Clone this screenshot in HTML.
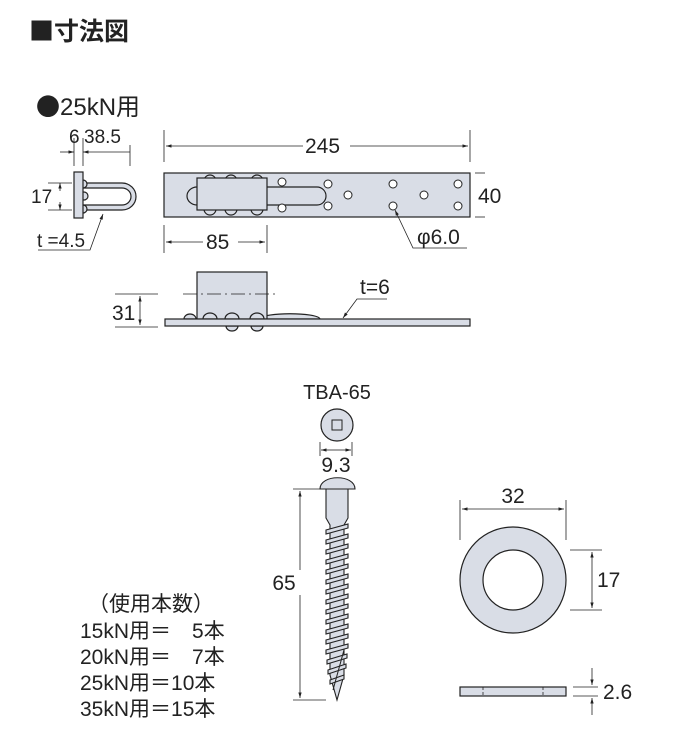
<!DOCTYPE html>
<html><head><meta charset="utf-8"><style>
html,body{margin:0;padding:0;background:#fff}
svg{display:block}
text{font-family:"Liberation Sans","Noto Sans CJK JP",sans-serif;fill:#222}
</style></head><body>
<svg width="700" height="740" viewBox="0 0 700 740" xmlns="http://www.w3.org/2000/svg">
<defs>
<marker id="a" viewBox="0 0 10 10" refX="10" refY="5" markerWidth="7" markerHeight="7" orient="auto-start-reverse"><path d="M0,2 L10,5 L0,8 z" fill="#222"/></marker>
</defs>
<text x="29" y="40" font-size="25" font-weight="bold" style="font-family:'Noto Sans CJK JP',sans-serif">■寸法図</text>
<text x="36" y="115" font-size="24"><tspan style="font-family:'Noto Sans CJK JP',sans-serif">●</tspan>25kN用</text>

<!-- side bracket -->
<g stroke="#222" stroke-width="1.2" fill="#d9dde6">
<path d="M83,183 H122 A14,13.5 0 0 1 122,210 H83 V205 H122 A9,8.5 0 0 0 122,188 H83 Z"/>
<circle cx="83" cy="184" r="4"/><circle cx="83" cy="209" r="4"/><circle cx="84" cy="196" r="4"/>
<rect x="74" y="172" width="9" height="46"/>
</g>
<g stroke="#222" stroke-width="0.8" fill="none">
<line x1="74" y1="138" x2="74" y2="166"/><line x1="83" y1="138" x2="83" y2="166"/><line x1="130" y1="145" x2="130" y2="166"/>
<line x1="60" y1="152" x2="74" y2="152" marker-end="url(#a)"/>
<line x1="130" y1="152" x2="83" y2="152" marker-end="url(#a)"/>
<line x1="48" y1="183" x2="72" y2="183"/><line x1="48" y1="210" x2="72" y2="210"/>
<line x1="60" y1="191" x2="60" y2="183" marker-end="url(#a)"/>
<line x1="60" y1="202" x2="60" y2="210" marker-end="url(#a)"/>
<path d="M38,250 H90 L103,214" marker-end="url(#a)"/>
</g>
<text x="69" y="143" font-size="19">6</text>
<text x="84" y="143" font-size="19">38.5</text>
<text x="31" y="203" font-size="19">17</text>
<text x="37" y="247" font-size="19">t =4.5</text>

<!-- top view plate -->
<g stroke="#222" stroke-width="1.2" fill="#d9dde6">
<rect x="164" y="173" width="306" height="44"/>
<path d="M197,187 H317 A9,9 0 0 1 317,205 H197 A10,9 0 0 1 197,187 Z"/>
<circle cx="210" cy="181" r="6"/><circle cx="231" cy="181" r="6"/><circle cx="257" cy="181" r="6"/>
<circle cx="210" cy="209" r="6"/><circle cx="231" cy="209" r="6"/><circle cx="257" cy="209" r="6"/>
<rect x="197" y="178" width="70" height="32"/>
</g>
<g stroke="#222" stroke-width="1" fill="#fff">
<circle cx="282" cy="182" r="4"/><circle cx="282" cy="208" r="4"/>
<circle cx="328" cy="184" r="4"/><circle cx="328" cy="206" r="4"/><circle cx="348" cy="195" r="4"/>
<circle cx="393" cy="184" r="4"/><circle cx="393" cy="206" r="4"/><circle cx="424" cy="195" r="4"/>
<circle cx="458" cy="184" r="4"/><circle cx="458" cy="206" r="4"/>
</g>
<g stroke="#222" stroke-width="0.8" fill="none">
<line x1="164" y1="130" x2="164" y2="162"/><line x1="470" y1="130" x2="470" y2="162"/>
<line x1="303" y1="146" x2="166" y2="146" marker-end="url(#a)"/>
<line x1="350" y1="146" x2="468" y2="146" marker-end="url(#a)"/>
<line x1="475" y1="173" x2="485" y2="173"/><line x1="475" y1="217" x2="485" y2="217"/>
<line x1="164" y1="225" x2="164" y2="253"/><line x1="267" y1="225" x2="267" y2="253"/>
<line x1="203" y1="242" x2="166" y2="242" marker-end="url(#a)"/>
<line x1="238" y1="242" x2="265" y2="242" marker-end="url(#a)"/>
<path d="M467,248 H413 L395,210" marker-end="url(#a)"/>
</g>
<text x="305" y="153" font-size="21">245</text>
<text x="478" y="203" font-size="21">40</text>
<text x="206" y="249" font-size="21">85</text>
<text x="417" y="244" font-size="21">φ6.0</text>

<!-- side view -->
<g stroke="#222" stroke-width="1.2" fill="#d9dde6">
<path d="M260,319 C262,312 318,312 320,319 Z"/>
<rect x="197" y="272" width="70" height="47"/>
<path d="M184,319 A6,5 0 0 1 196,319 Z"/>
<path d="M203,319 A7,6 0 0 1 217,319 Z"/>
<path d="M225,319 A7,6 0 0 1 239,319 Z"/>
<path d="M250,319 A7,6 0 0 1 264,319 Z"/>
<path d="M226,326 A6,5 0 0 0 238,326 Z"/>
<path d="M251,326 A6,5 0 0 0 263,326 Z"/>
<rect x="165" y="319" width="305" height="7"/>
</g>
<g stroke="#222" stroke-width="0.8" fill="none">
<line x1="183" y1="294" x2="278" y2="294" stroke-dasharray="14,4,2,4"/>
<line x1="115" y1="294" x2="158" y2="294"/><line x1="115" y1="327" x2="158" y2="327"/>
<line x1="140" y1="312" x2="140" y2="296" marker-end="url(#a)"/>
<line x1="140" y1="312" x2="140" y2="325" marker-end="url(#a)"/>
<path d="M387,299 H357 L343,318" marker-end="url(#a)"/>
</g>
<text x="112" y="320" font-size="21">31</text>
<text x="360" y="294" font-size="21">t=6</text>

<!-- screw -->
<text x="337" y="399" font-size="20" text-anchor="middle">TBA-65</text>
<circle cx="337" cy="425" r="16" fill="#d9dde6" stroke="#222" stroke-width="1.2"/>
<rect x="332" y="420" width="10" height="10" fill="none" stroke="#222" stroke-width="1"/>
<g stroke="#222" stroke-width="0.8" fill="none">
<line x1="320" y1="442" x2="320" y2="456"/><line x1="352" y1="442" x2="352" y2="456"/>
<line x1="336" y1="450" x2="321" y2="450" marker-end="url(#a)"/>
<line x1="336" y1="450" x2="351" y2="450" marker-end="url(#a)"/>
<line x1="293" y1="489" x2="326" y2="489"/><line x1="293" y1="700" x2="326" y2="700"/>
<line x1="300" y1="570" x2="300" y2="491" marker-end="url(#a)"/>
<line x1="300" y1="595" x2="300" y2="698" marker-end="url(#a)"/>
</g>
<text x="336" y="472" font-size="21" text-anchor="middle">9.3</text>
<text x="284" y="590" font-size="21" text-anchor="middle">65</text>
<g stroke="#222" stroke-width="1.1" fill="#d9dde6">
<path d="M320,489 C320,474 355,474 355,489 Z"/>
<path d="M326,489 H348 V518 L344,525 V675 L337,700 L330,675 V525 L326,518 Z"/>
</g>
<g stroke="#222" stroke-width="1.1" fill="#d9dde6">
<path d="M326,530 L348,524 L348,528 L326,534 Z"/>
<path d="M326,540 L348,534 L348,538 L326,544 Z"/>
<path d="M326,550 L348,544 L348,548 L326,554 Z"/>
<path d="M326,560 L348,554 L348,558 L326,564 Z"/>
<path d="M326,570 L348,564 L348,568 L326,574 Z"/>
<path d="M326,580 L348,574 L348,578 L326,584 Z"/>
<path d="M326,590 L348,584 L348,588 L326,594 Z"/>
<path d="M326,600 L348,594 L348,598 L326,604 Z"/>
<path d="M326,610 L348,604 L348,608 L326,614 Z"/>
<path d="M326,620 L348,614 L348,618 L326,624 Z"/>
<path d="M326,630 L348,624 L348,628 L326,634 Z"/>
<path d="M326,640 L348,634 L348,638 L326,644 Z"/>
<path d="M326,650 L348,644 L348,648 L326,654 Z"/>
<path d="M327,660 L347,654 L347,658 L327,664 Z"/>
<path d="M328,670 L346,664 L346,668 L328,674 Z"/>
<path d="M330,680 L344,675 L344,679 L330,684 Z"/>
</g>
<line x1="344" y1="650" x2="333" y2="690" stroke="#222" stroke-width="1"/>

<!-- washer -->
<path d="M566,580 A53,53 0 1 1 460,580 A53,53 0 1 1 566,580 Z M543,580 A30,30 0 1 0 483,580 A30,30 0 1 0 543,580 Z" fill="#d9dde6" fill-rule="evenodd" stroke="#222" stroke-width="1.2"/>
<rect x="460" y="687" width="106" height="9" fill="#d9dde6" stroke="#222" stroke-width="1.2"/>
<g stroke="#222" stroke-width="0.8" fill="none">
<line x1="483" y1="687" x2="483" y2="696" stroke-dasharray="3,2"/><line x1="543" y1="687" x2="543" y2="696" stroke-dasharray="3,2"/>
<line x1="460" y1="500" x2="460" y2="540"/><line x1="566" y1="500" x2="566" y2="540"/>
<line x1="513" y1="509" x2="462" y2="509" marker-end="url(#a)"/>
<line x1="513" y1="509" x2="564" y2="509" marker-end="url(#a)"/>
<line x1="570" y1="550" x2="602" y2="550"/><line x1="570" y1="610" x2="602" y2="610"/>
<line x1="592" y1="580" x2="592" y2="552" marker-end="url(#a)"/>
<line x1="592" y1="580" x2="592" y2="608" marker-end="url(#a)"/>
<line x1="573" y1="687" x2="598" y2="687"/><line x1="573" y1="696" x2="598" y2="696"/>
<line x1="592" y1="668" x2="592" y2="685" marker-end="url(#a)"/>
<line x1="592" y1="715" x2="592" y2="698" marker-end="url(#a)"/>
</g>
<text x="513" y="503" font-size="21" text-anchor="middle">32</text>
<text x="597" y="587" font-size="21">17</text>
<text x="603" y="699" font-size="21">2.6</text>

<!-- quantities -->
<g font-size="21">
<text x="88" y="611">（使用本数）</text>
<text x="80" y="638">15kN用＝　5本</text>
<text x="80" y="664">20kN用＝　7本</text>
<text x="80" y="690">25kN用＝10本</text>
<text x="80" y="716">35kN用＝15本</text>
</g>
</svg>
</body></html>
